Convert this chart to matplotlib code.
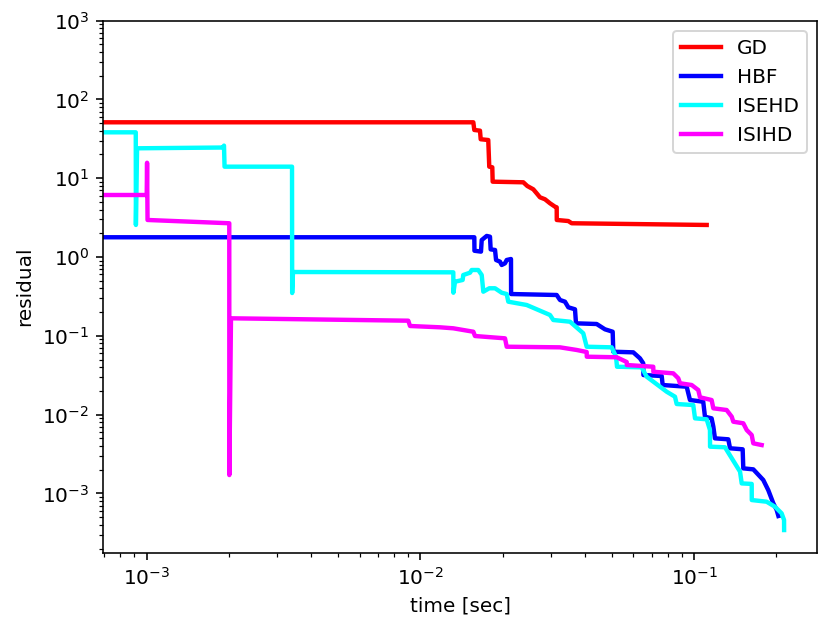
import matplotlib
matplotlib.use("Agg")
import matplotlib.pyplot as plt

# GD
gd_t = [6.9e-4, 0.01561, 0.01574, 0.01651, 0.01661, 0.01770, 0.01785, 0.01831, 0.01837,
        0.02377, 0.02458, 0.02585, 0.02660, 0.02735, 0.02853, 0.02976, 0.03103, 0.03148,
        0.03150, 0.03471, 0.03571, 0.1112]
gd_r = [51.2, 51.2, 40.9, 40.1, 31.2, 30.5, 14.0, 13.75, 9.03,
        8.87, 7.96, 7.23, 6.43, 5.72, 5.40, 4.80, 4.35, 4.27,
        2.95, 2.86, 2.68, 2.55]

# HBF
hbf_t = [6.9e-4, 0.01574, 0.01576, 0.01665, 0.01675, 0.01747, 0.01796, 0.01806, 0.01874,
         0.01890, 0.01954, 0.01982, 0.02038, 0.02067, 0.02143, 0.02145, 0.03148, 0.03237,
         0.03375, 0.03471, 0.03672, 0.03703, 0.04406, 0.04725, 0.05042, 0.05068, 0.05996,
         0.06342, 0.06521, 0.0653, 0.07615, 0.07679, 0.09397, 0.09661, 0.1080, 0.1096,
         0.1159, 0.1176, 0.1192, 0.1334, 0.1353, 0.1505, 0.1513, 0.1646, 0.1790, 0.1867,
         0.1948, 0.2004, 0.2033]
hbf_r = [1.78, 1.78, 1.20, 1.17, 1.64, 1.85, 1.81, 1.25, 1.227,
         0.916, 0.872, 0.792, 0.832, 0.916, 0.943, 0.339, 0.3295, 0.2847,
         0.271, 0.230, 0.217, 0.144, 0.1412, 0.1209, 0.1127, 0.0628, 0.0617,
         0.0518, 0.0448, 0.0318, 0.0309, 0.02375, 0.0226, 0.01532, 0.01458, 0.0094,
         0.00897, 0.00702, 0.0050, 0.00486, 0.00374, 0.00363, 0.00208, 0.00202, 0.00148, 0.0011,
         0.000749, 0.000616, 0.000517]

# ISEHD
isehd_t = [6.9e-4, 0.000912, 0.000913, 0.000922, 0.001905, 0.001916, 0.001925, 0.003396,
           0.003400, 0.003424, 0.01319, 0.01320, 0.01338, 0.01427, 0.01434, 0.01518, 0.01540,
           0.01627, 0.01675, 0.01698, 0.01785, 0.01874, 0.01982, 0.02067, 0.02095, 0.02446,
           0.02976, 0.03059, 0.03521, 0.03937, 0.04051, 0.05000, 0.05186, 0.05229, 0.06433,
           0.06711, 0.07941, 0.08516, 0.08638, 0.0993, 0.1008, 0.1112, 0.1143, 0.1144,
           0.1297, 0.1472, 0.1493, 0.1624, 0.1625, 0.1841, 0.1975, 0.2089, 0.2132, 0.2133]
isehd_r = [38.2, 38.2, 2.55, 23.95, 24.5, 25.9, 14.0, 14.0,
           0.349, 0.645, 0.639, 0.352, 0.486, 0.511, 0.591, 0.632, 0.684,
           0.684, 0.591, 0.363, 0.401, 0.401, 0.352, 0.339, 0.271, 0.246,
           0.1837, 0.1587, 0.151, 0.1076, 0.0727, 0.0714, 0.0543, 0.0405, 0.0398,
           0.0303, 0.01953, 0.01688, 0.01363, 0.01323, 0.00897, 0.00872, 0.00638, 0.00392,
           0.00385, 0.00189, 0.00134, 0.00132, 0.000824, 0.000785, 0.000678, 0.000559, 0.00046, 0.000343]

# ISIHD
isihd_t = [6.9e-4, 0.001, 0.001003, 0.001007, 0.002003, 0.002004, 0.002032, 0.009033,
           0.009163, 0.01179, 0.01319, 0.01561, 0.01583, 0.02038, 0.02067, 0.03237, 0.03725,
           0.04051, 0.04055, 0.05216, 0.05674, 0.05680, 0.07094, 0.0710, 0.08395, 0.08757,
           0.08883, 0.0980, 0.1036, 0.1051, 0.1159, 0.1176, 0.1315, 0.1373, 0.1391, 0.1513,
           0.1557, 0.1624, 0.1646, 0.1766]
isihd_r = [6.12, 6.12, 15.7, 2.95, 2.68, 0.00171, 0.1668, 0.1555,
           0.1332, 0.1282, 0.1245, 0.1127, 0.0994, 0.0929, 0.0727, 0.0714, 0.0661,
           0.0623, 0.0543, 0.0534, 0.0465, 0.0426, 0.0405, 0.0350, 0.0334, 0.0289,
           0.0250, 0.02375, 0.0205, 0.01658, 0.01532, 0.01202, 0.01144, 0.0094, 0.00813, 0.00776,
           0.00638, 0.00551, 0.00432, 0.00411]

fig = plt.figure(figsize=(831 / 144, 631 / 144), dpi=144)
ax = fig.add_axes([0.1243, 0.1241, 0.8585, 0.8433])

ax.loglog(gd_t, gd_r, color='#ff0000', lw=2.2, label='GD')
ax.loglog(hbf_t, hbf_r, color='#0000ff', lw=2.2, label='HBF')
ax.loglog(isehd_t, isehd_r, color='#00ffff', lw=2.2, label='ISEHD')
ax.loglog(isihd_t, isihd_r, color='#ff00ff', lw=2.2, label='ISIHD')

ax.set_xlim(6.94e-4, 0.2806)
ax.set_ylim(1.77e-4, 1e3)
ax.set_xlabel('time [sec]')
ax.set_ylabel('residual')
ax.legend(loc='upper right')

fig.savefig('out.png', dpi=144)
